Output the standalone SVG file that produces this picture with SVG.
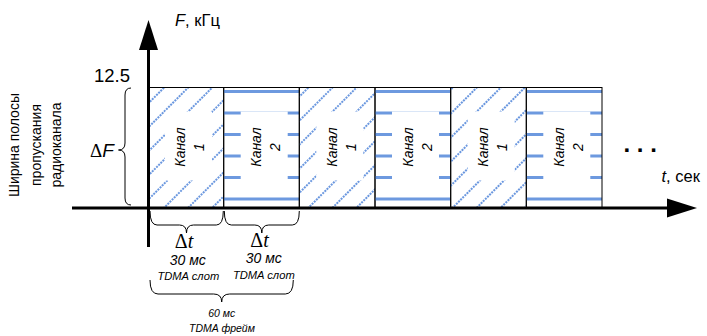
<svg xmlns="http://www.w3.org/2000/svg" width="707" height="336" viewBox="0 0 707 336">
<defs>
<pattern id="hatch" patternUnits="userSpaceOnUse" width="17" height="6" patternTransform="rotate(45)">
<line x1="8" y1="0" x2="8" y2="6" stroke="#6a97df" stroke-width="2" stroke-dasharray="2 1"/>
</pattern>
</defs>
<style>
.t{font-family:"Liberation Sans",Arial,sans-serif;fill:#000}
.i{font-style:italic}
.s{font-family:"Liberation Serif","Times New Roman",serif}
.bl{stroke:#6d99df;stroke-width:3}
.bd{fill:none;stroke:#000;stroke-width:1}
.br{fill:none;stroke:#000;stroke-width:1}
.wb{fill:#fff}
</style>
<rect width="707" height="336" fill="#fff"/>

<g id="slot1">
<rect x="148" y="87.5" width="75.7" height="120.5" fill="url(#hatch)"/>
<rect class="wb" x="165" y="111.5" width="47" height="69"/>
<text class="t i" font-size="14" text-anchor="middle" transform="translate(185,147) rotate(-90)">Канал</text>
<text class="t i" font-size="14" text-anchor="middle" transform="translate(204,147) rotate(-90)">1</text>
<rect class="bd" x="148" y="87.5" width="75.7" height="120.5"/>
</g>
<g id="slot2">
<g class="bl">
<line x1="223.7" y1="91.5" x2="299.3" y2="91.5"/><line x1="223.7" y1="113" x2="299.3" y2="113"/><line x1="223.7" y1="134.5" x2="299.3" y2="134.5"/><line x1="223.7" y1="156" x2="299.3" y2="156"/><line x1="223.7" y1="177.5" x2="299.3" y2="177.5"/><line x1="223.7" y1="199" x2="299.3" y2="199"/>
</g>
<rect class="wb" x="240.7" y="111.5" width="47" height="69"/>
<text class="t i" font-size="14" text-anchor="middle" transform="translate(261,147) rotate(-90)">Канал</text>
<text class="t i" font-size="14" text-anchor="middle" transform="translate(280,147) rotate(-90)">2</text>
<rect class="bd" x="223.7" y="87.5" width="75.6" height="120.5"/>
</g>
<g id="slot3">
<rect x="299.3" y="87.5" width="75.7" height="120.5" fill="url(#hatch)"/>
<rect class="wb" x="316.3" y="111.5" width="47" height="69"/>
<text class="t i" font-size="14" text-anchor="middle" transform="translate(336.5,147) rotate(-90)">Канал</text>
<text class="t i" font-size="14" text-anchor="middle" transform="translate(355.5,147) rotate(-90)">1</text>
<rect class="bd" x="299.3" y="87.5" width="75.7" height="120.5"/>
</g>
<g id="slot4">
<g class="bl">
<line x1="375" y1="91.5" x2="450.7" y2="91.5"/><line x1="375" y1="113" x2="450.7" y2="113"/><line x1="375" y1="134.5" x2="450.7" y2="134.5"/><line x1="375" y1="156" x2="450.7" y2="156"/><line x1="375" y1="177.5" x2="450.7" y2="177.5"/><line x1="375" y1="199" x2="450.7" y2="199"/>
</g>
<rect class="wb" x="392" y="111.5" width="47" height="69"/>
<text class="t i" font-size="14" text-anchor="middle" transform="translate(412.5,147) rotate(-90)">Канал</text>
<text class="t i" font-size="14" text-anchor="middle" transform="translate(431.5,147) rotate(-90)">2</text>
<rect class="bd" x="375" y="87.5" width="75.7" height="120.5"/>
</g>
<g id="slot5">
<rect x="450.7" y="87.5" width="75.6" height="120.5" fill="url(#hatch)"/>
<rect class="wb" x="467.7" y="111.5" width="47" height="69"/>
<text class="t i" font-size="14" text-anchor="middle" transform="translate(488,147) rotate(-90)">Канал</text>
<text class="t i" font-size="14" text-anchor="middle" transform="translate(507,147) rotate(-90)">1</text>
<rect class="bd" x="450.7" y="87.5" width="75.6" height="120.5"/>
</g>
<g id="slot6">
<g class="bl">
<line x1="526.3" y1="91.5" x2="602" y2="91.5"/><line x1="526.3" y1="113" x2="602" y2="113"/><line x1="526.3" y1="134.5" x2="602" y2="134.5"/><line x1="526.3" y1="156" x2="602" y2="156"/><line x1="526.3" y1="177.5" x2="602" y2="177.5"/><line x1="526.3" y1="199" x2="602" y2="199"/>
</g>
<rect class="wb" x="543.3" y="111.5" width="47" height="69"/>
<text class="t i" font-size="14" text-anchor="middle" transform="translate(563.5,147) rotate(-90)">Канал</text>
<text class="t i" font-size="14" text-anchor="middle" transform="translate(582.5,147) rotate(-90)">2</text>
<rect class="bd" x="526.3" y="87.5" width="75.7" height="120.5"/>
</g>

<g id="connectors">
<line x1="72" y1="208" x2="668" y2="208" stroke="#000" stroke-width="3"/>
<polygon points="667,198.5 697,208 667,217.5" fill="#000"/>
<line x1="148.5" y1="247" x2="148.5" y2="48" stroke="#000" stroke-width="3"/>
<polygon points="139,50 148.5,20 158,50" fill="#000"/>
</g>

<g id="braces">
<path class="br" d="M131,88 Q125,88 125,95 L125,143 Q125,150 118.5,150 Q125,150 125,157 L125,198 Q125,205 131,205"/>
<path class="br" d="M150,211 Q150,225 157,225 L179.5,225 Q186.5,225 186.5,233 Q186.5,225 193.5,225 L216.3,225 Q223.3,225 223.3,211"/>
<path class="br" d="M224.3,211 Q224.3,225 231.3,225 L254.8,225 Q261.8,225 261.8,233 Q261.8,225 268.8,225 L292.3,225 Q299.3,225 299.3,211"/>
<path class="br" d="M150,280 Q150,294 158,294 L213.7,294 Q221.7,294 221.7,302 Q221.7,294 229.7,294 L285.3,294 Q293.3,294 293.3,280"/>
</g>

<g id="labels">
<text class="t" x="175" y="26" font-size="16.5"><tspan class="i">F</tspan>, кГц</text>
<text class="t" x="94" y="81.5" font-size="18.5">12.5</text>
<text class="t" font-size="14" text-anchor="middle" transform="translate(19,145) rotate(-90)">Ширина полосы</text>
<text class="t" font-size="14" text-anchor="middle" transform="translate(40.5,145) rotate(-90)">пропускания</text>
<text class="t" font-size="14" text-anchor="middle" transform="translate(61,145) rotate(-90)">радиоканала</text>
<text x="90" y="156.5" font-size="19"><tspan class="s">Δ</tspan><tspan class="t i">F</tspan></text>
<text class="t" x="661.5" y="181.5" font-size="16.5"><tspan class="i">t</tspan>, сек</text>
<text class="t" x="623.5" y="151.5" font-size="24" font-weight="bold">. . .</text>
<text class="s" x="184" y="248" font-size="20" text-anchor="middle">Δ<tspan font-style="italic">t</tspan></text>
<text class="s" x="259.5" y="247" font-size="20" text-anchor="middle">Δ<tspan font-style="italic">t</tspan></text>
<text class="t i" x="187.7" y="265" font-size="14" text-anchor="middle">30 мс</text>
<text class="t i" x="263.7" y="262.7" font-size="14" text-anchor="middle">30 мс</text>
<text class="t i" x="188.3" y="280" font-size="11.2" text-anchor="middle">TDMA слот</text>
<text class="t i" x="263.8" y="279" font-size="11.2" text-anchor="middle">TDMA слот</text>
<text class="t i" x="221.7" y="317.3" font-size="10.5" text-anchor="middle">60 мс</text>
<text class="t i" x="222" y="332.3" font-size="10.5" text-anchor="middle">TDMA фрейм</text>
</g>
</svg>
